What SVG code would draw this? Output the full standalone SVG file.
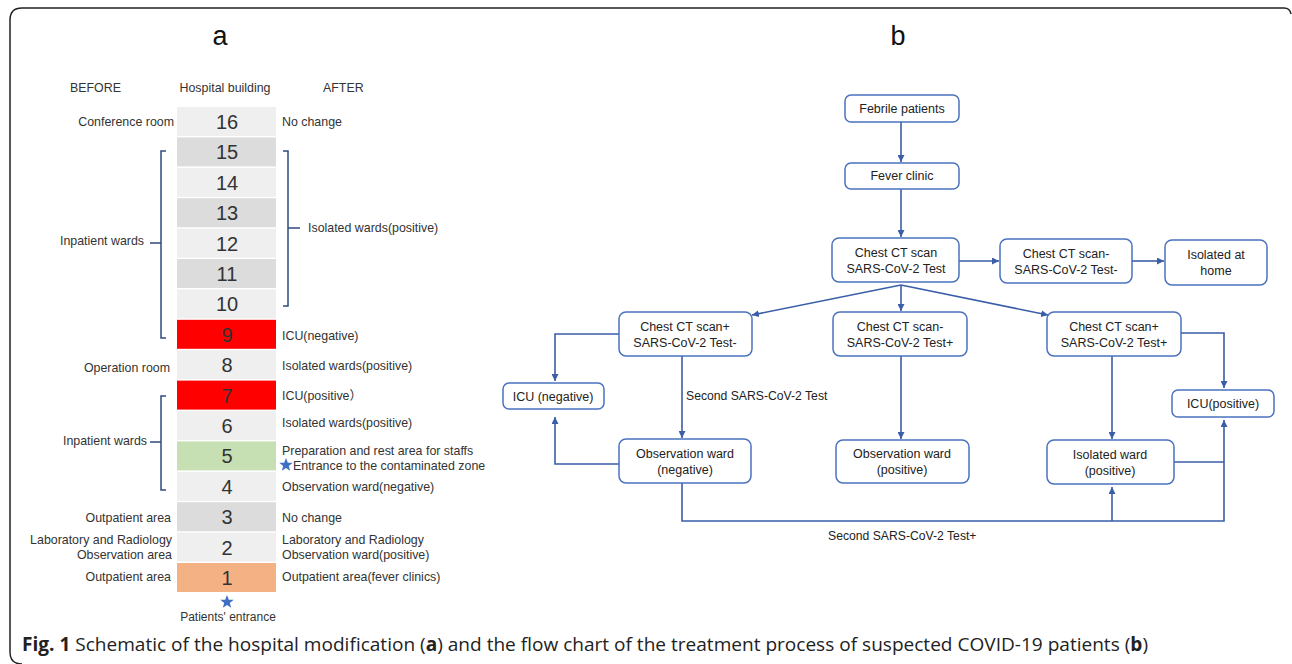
<svg xmlns="http://www.w3.org/2000/svg" width="1292" height="664" viewBox="0 0 1292 664">
<style>
.lbl{font-family:"Liberation Sans",Arial,sans-serif;font-size:12.4px;fill:#333}
.num{font-family:"Liberation Sans",Arial,sans-serif;font-size:20px;fill:#333;text-anchor:middle}
.ttl{font-family:"Liberation Sans",Arial,sans-serif;font-size:27px;fill:#111;text-anchor:middle}
.ft{font-family:"Liberation Sans",Arial,sans-serif;font-size:12.5px;fill:#222;text-anchor:middle}
.fl{font-family:"Liberation Sans",Arial,sans-serif;font-size:12.2px;fill:#222}
.box{fill:#fff;stroke:#4a72bd;stroke-width:1.5}
.light{fill:#efefef}.dark{fill:#dcdcdc}.red{fill:#ff0000}.green{fill:#c6e0b4}.orange{fill:#f4b183}
.br{fill:none;stroke:#2f4a80;stroke-width:1.5}
.ln{fill:none;stroke:#3a5ea8;stroke-width:1.6}
.end{text-anchor:end}
</style>
<defs>
<marker id="ah" viewBox="0 0 10 10" refX="10" refY="5" markerWidth="7" markerHeight="7" markerUnits="userSpaceOnUse" orient="auto">
<path d="M0,0 L10,5 L0,10 z" fill="#3a5ea8"/>
</marker>
<path id="star" d="M0,-7 L1.8,-2.3 L6.7,-2.2 L2.8,0.9 L4.2,5.8 L0,2.9 L-4.2,5.8 L-2.8,0.9 L-6.7,-2.2 L-1.8,-2.3 z" fill="#3f6fc4"/>
</defs>
<rect width="1292" height="664" fill="#fff"/>
<path d="M22 664 Q10 664 10 652 V20 Q10 8 22 8 H1284 Q1290 8 1291 14" fill="none" stroke="#222" stroke-width="1.5"/>

<text class="ttl" x="220" y="45">a</text>
<text class="ttl" x="898" y="45">b</text>

<g id="panel-a">
<text class="lbl" x="70" y="92">BEFORE</text>
<text class="lbl" x="225" y="92" text-anchor="middle">Hospital building</text>
<text class="lbl" x="323" y="92">AFTER</text>

<g id="floor16"><rect class="light" x="177" y="107" width="99" height="29"/><text class="num" x="227" y="129">16</text></g>
<g id="floor15"><rect class="dark" x="177" y="137.4" width="99" height="29"/><text class="num" x="227" y="159.4">15</text></g>
<g id="floor14"><rect class="light" x="177" y="167.8" width="99" height="29"/><text class="num" x="227" y="189.8">14</text></g>
<g id="floor13"><rect class="dark" x="177" y="198.2" width="99" height="29"/><text class="num" x="227" y="220.2">13</text></g>
<g id="floor12"><rect class="light" x="177" y="228.6" width="99" height="29"/><text class="num" x="227" y="250.6">12</text></g>
<g id="floor11"><rect class="dark" x="177" y="259" width="99" height="29"/><text class="num" x="227" y="281">11</text></g>
<g id="floor10"><rect class="light" x="177" y="289.4" width="99" height="29"/><text class="num" x="227" y="311.4">10</text></g>
<g id="floor9"><rect class="red" x="177" y="319.8" width="99" height="29"/><text class="num" x="227" y="341.8">9</text></g>
<g id="floor8"><rect class="light" x="177" y="350.2" width="99" height="29"/><text class="num" x="227" y="372.2">8</text></g>
<g id="floor7"><rect class="red" x="177" y="380.6" width="99" height="29"/><text class="num" x="227" y="402.6">7</text></g>
<g id="floor6"><rect class="light" x="177" y="411" width="99" height="29"/><text class="num" x="227" y="433">6</text></g>
<g id="floor5"><rect class="green" x="177" y="441.4" width="99" height="29"/><text class="num" x="227" y="463.4">5</text></g>
<g id="floor4"><rect class="light" x="177" y="471.8" width="99" height="29"/><text class="num" x="227" y="493.8">4</text></g>
<g id="floor3"><rect class="dark" x="177" y="502.2" width="99" height="29"/><text class="num" x="227" y="524.2">3</text></g>
<g id="floor2"><rect class="light" x="177" y="532.6" width="99" height="29"/><text class="num" x="227" y="554.6">2</text></g>
<g id="floor1"><rect class="orange" x="177" y="563" width="99" height="29"/><text class="num" x="227" y="585">1</text></g>

<g id="before-labels">
<text class="lbl end" x="174" y="126">Conference room</text>
<text class="lbl end" x="144" y="245">Inpatient wards</text>
<text class="lbl end" x="170" y="372">Operation room</text>
<text class="lbl end" x="147" y="445">Inpatient wards</text>
<text class="lbl end" x="171" y="522">Outpatient area</text>
<text class="lbl end" x="172" y="544">Laboratory and Radiology</text>
<text class="lbl end" x="172" y="559">Observation area</text>
<text class="lbl end" x="171" y="581">Outpatient area</text>
</g>
<g id="brackets">
<path class="br" d="M166 151 H161 V338 H166 M150 243 H161"/>
<path class="br" d="M166 396 H161 V490 H166 M150 442 H161"/>
<path class="br" d="M283 151 H288 V306 H283 M288 228 H300"/>
</g>
<g id="after-labels">
<text class="lbl" x="282" y="126">No change</text>
<text class="lbl" x="308" y="232">Isolated wards(positive)</text>
<text class="lbl" x="282" y="340">ICU(negative)</text>
<text class="lbl" x="282" y="370">Isolated wards(positive)</text>
<text class="lbl" x="282" y="400">ICU(positive<tspan font-family="'Noto Sans CJK SC',sans-serif">）</tspan></text>
<text class="lbl" x="282" y="427">Isolated wards(positive)</text>
<text class="lbl" x="282" y="455">Preparation and rest area for staffs</text>
<use href="#star" x="286" y="465"/>
<text class="lbl" x="293" y="470">Entrance to the contaminated zone</text>
<text class="lbl" x="282" y="491">Observation ward(negative)</text>
<text class="lbl" x="282" y="522">No change</text>
<text class="lbl" x="282" y="544">Laboratory and Radiology</text>
<text class="lbl" x="282" y="559">Observation ward(positive)</text>
<text class="lbl" x="282" y="581">Outpatient area(fever clinics)</text>
</g>
<use href="#star" x="227" y="602"/>
<text class="lbl" x="228" y="621" text-anchor="middle" style="font-size:12px">Patients' entrance</text>
</g>

<g id="connectors">
<line class="ln" x1="901" y1="122" x2="901" y2="162" marker-end="url(#ah)"/>
<line class="ln" x1="901" y1="189" x2="901" y2="237" marker-end="url(#ah)"/>
<line class="ln" x1="959" y1="261" x2="999" y2="261" marker-end="url(#ah)"/>
<line class="ln" x1="1132" y1="261" x2="1164" y2="261" marker-end="url(#ah)"/>
<line class="ln" x1="901" y1="285" x2="752" y2="315" marker-end="url(#ah)"/>
<line class="ln" x1="901" y1="285" x2="901" y2="311" marker-end="url(#ah)"/>
<line class="ln" x1="901" y1="285" x2="1048" y2="315" marker-end="url(#ah)"/>
<polyline class="ln" points="619,334 555,334 555,381" marker-end="url(#ah)"/>
<line class="ln" x1="682" y1="356" x2="682" y2="438" marker-end="url(#ah)"/>
<polyline class="ln" points="619,464 555,464 555,417" marker-end="url(#ah)"/>
<line class="ln" x1="901" y1="356" x2="901" y2="439" marker-end="url(#ah)"/>
<line class="ln" x1="1112" y1="356" x2="1112" y2="439" marker-end="url(#ah)"/>
<polyline class="ln" points="1181,333 1224,333 1224,388" marker-end="url(#ah)"/>
<polyline class="ln" points="682,483 682,521 1224,521 1224,420" marker-end="url(#ah)"/>
<line class="ln" x1="1112" y1="521" x2="1112" y2="487" marker-end="url(#ah)"/>
<line class="ln" x1="1174" y1="462" x2="1224" y2="462"/>
<text class="fl" x="686" y="400">Second SARS-CoV-2 Test</text>
<text class="fl" x="828" y="540">Second SARS-CoV-2 Test+</text>
</g>

<g id="febrile"><rect class="box" x="845" y="95" width="114" height="27" rx="6"/><text class="ft" x="902" y="113">Febrile patients</text></g>
<g id="fever-clinic"><rect class="box" x="845" y="163" width="114" height="26" rx="6"/><text class="ft" x="902" y="180">Fever clinic</text></g>
<g id="ct-test"><rect class="box" x="832" y="238" width="127" height="44" rx="7"/><text class="ft" x="896" y="257">Chest CT scan</text><text class="ft" x="896" y="273">SARS-CoV-2 Test</text></g>
<g id="ct-neg-test-neg"><rect class="box" x="1000" y="239" width="132" height="44" rx="7"/><text class="ft" x="1066" y="258">Chest CT scan-</text><text class="ft" x="1066" y="274">SARS-CoV-2 Test-</text></g>
<g id="home"><rect class="box" x="1165" y="240" width="102" height="45" rx="7"/><text class="ft" x="1216" y="259">Isolated at</text><text class="ft" x="1216" y="275">home</text></g>
<g id="ct-pos-test-neg"><rect class="box" x="619" y="312" width="133" height="44" rx="7"/><text class="ft" x="685" y="331">Chest CT scan+</text><text class="ft" x="685" y="347">SARS-CoV-2 Test-</text></g>
<g id="ct-neg-test-pos"><rect class="box" x="833" y="312" width="134" height="44" rx="7"/><text class="ft" x="900" y="331">Chest CT scan-</text><text class="ft" x="900" y="347">SARS-CoV-2 Test+</text></g>
<g id="ct-pos-test-pos"><rect class="box" x="1047" y="312" width="134" height="44" rx="7"/><text class="ft" x="1114" y="331">Chest CT scan+</text><text class="ft" x="1114" y="347">SARS-CoV-2 Test+</text></g>
<g id="icu-neg"><rect class="box" x="503" y="383" width="101" height="26" rx="6"/><text class="ft" x="553" y="401">ICU (negative)</text></g>
<g id="icu-pos"><rect class="box" x="1172" y="390" width="102" height="27" rx="6"/><text class="ft" x="1223" y="408">ICU(positive)</text></g>
<g id="obs-neg"><rect class="box" x="619" y="439" width="132" height="44" rx="7"/><text class="ft" x="685" y="458">Observation ward</text><text class="ft" x="685" y="474">(negative)</text></g>
<g id="obs-pos"><rect class="box" x="836" y="440" width="133" height="43" rx="7"/><text class="ft" x="902" y="458">Observation ward</text><text class="ft" x="902" y="474">(positive)</text></g>
<g id="iso-pos"><rect class="box" x="1047" y="440" width="127" height="44" rx="7"/><text class="ft" x="1110" y="459">Isolated ward</text><text class="ft" x="1110" y="475">(positive)</text></g>

<text x="22" y="651" textLength="1126" lengthAdjust="spacingAndGlyphs" style="font-family:'Open Sans','Liberation Sans',sans-serif;font-size:19px;fill:#222"><tspan font-weight="bold">Fig. 1</tspan> Schematic of the hospital modification (<tspan font-weight="bold">a</tspan>) and the flow chart of the treatment process of suspected COVID-19 patients (<tspan font-weight="bold">b</tspan>)</text>
</svg>
